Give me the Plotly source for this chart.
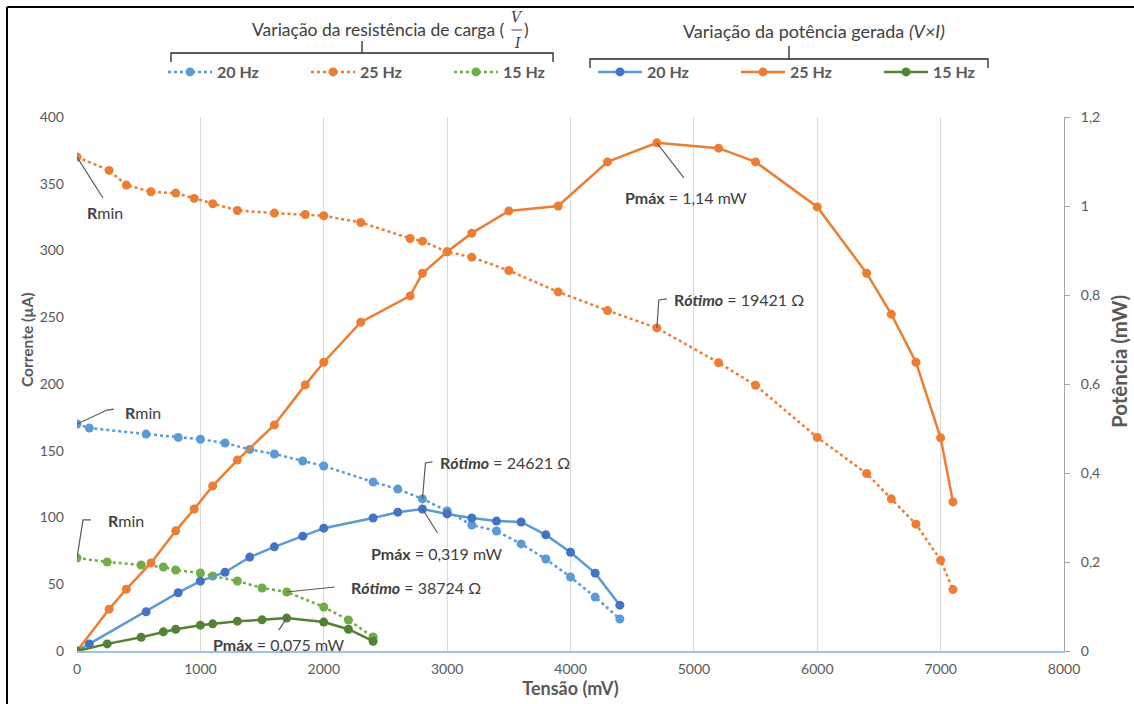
import plotly.graph_objects as go

# ---------------- data ----------------
# 25 Hz
x25 = [0, 260, 400, 600, 800, 950, 1100, 1300, 1600, 1850, 2000, 2300, 2700, 2800,
       3000, 3200, 3500, 3900, 4300, 4700, 5200, 5500, 6000, 6400, 6600, 6800, 7000, 7100]
i25 = [370, 360, 349, 344, 343, 339, 335, 330, 328, 327, 326, 321, 309, 307,
       299, 295, 285, 269, 255, 242, 216, 199, 160, 133, 114, 95, 68, 46]
p25 = [0, 0.094, 0.139, 0.198, 0.270, 0.319, 0.371, 0.429, 0.508, 0.598, 0.649, 0.739, 0.798, 0.849,
       0.897, 0.939, 0.989, 1.0, 1.099, 1.142, 1.130, 1.099, 0.998, 0.849, 0.757, 0.649, 0.479, 0.335]

# 20 Hz
x20 = [0, 100, 560, 820, 1000, 1200, 1400, 1600, 1830, 2000, 2400, 2600, 2800,
       3000, 3200, 3400, 3600, 3800, 4000, 4200, 4400]
i20 = [170, 167, 162.5, 160, 158.6, 155.8, 151, 147.6, 142.3, 138.6, 126.6, 121.3, 113.9,
       104.9, 94.4, 89.9, 80.2, 68.9, 55.4, 40.4, 24.0]
p20 = [0, 0.016, 0.088, 0.131, 0.157, 0.177, 0.211, 0.234, 0.258, 0.276, 0.299, 0.312, 0.319,
       0.308, 0.299, 0.292, 0.290, 0.261, 0.222, 0.175, 0.103]

# 15 Hz
x15 = [0, 245, 520, 700, 800, 1000, 1100, 1300, 1500, 1700, 2000, 2200, 2400]
i15 = [69.7, 66.7, 64.4, 62.9, 60.7, 58.4, 56.2, 52.4, 47.2, 44.2, 33.0, 23.2, 10.5]
p15 = [0, 0.016, 0.031, 0.043, 0.049, 0.058, 0.061, 0.067, 0.070, 0.074, 0.065, 0.049, 0.022]

series_names = ["20 Hz", "25 Hz", "15 Hz"]
x_ticks = [0, 1000, 2000, 3000, 4000, 5000, 6000, 7000, 8000]
y_ticks = [0, 50, 100, 150, 200, 250, 300, 350, 400]
y2_ticks = [0, 0.2, 0.4, 0.6, 0.8, 1.0, 1.2]
y2_ticktext = ["0", "0,2", "0,4", "0,6", "0,8", "1", "1,2"]

# ---------------- styling ----------------
W, H = 1134, 704
L, R, T, B = 77, 1064, 117, 651
FONT = "Lato, 'Open Sans', sans-serif"
GRAY = "#595959"
DARK = "#404040"
BLUE_L, BLUE_D = "#5B9BD5", "#4472C4"
ORANGE = "#ED7D31"
GREEN_L, GREEN_D = "#70AD47", "#548235"


def px(x):
    return (x - L) / (R - L)


def py(y):
    return (B - y) / (B - T)


fig = go.Figure()

# current (dotted) -> left axis
for name, xs, ys, col in [(series_names[0], x20, i20, BLUE_L),
                          (series_names[1], x25, i25, ORANGE),
                          (series_names[2], x15, i15, GREEN_L)]:
    fig.add_trace(go.Scatter(x=xs, y=ys, name=name, mode="lines+markers",
                             line=dict(color=col, width=2.5, dash="dot"),
                             marker=dict(color=col, size=9),
                             legend="legend", yaxis="y"))

# power (solid) -> right axis
for name, xs, ys, lcol, mcol in [(series_names[0], x20, p20, BLUE_L, BLUE_D),
                                 (series_names[1], x25, p25, ORANGE, ORANGE),
                                 (series_names[2], x15, p15, GREEN_D, GREEN_D)]:
    fig.add_trace(go.Scatter(x=xs, y=ys, name=name, mode="lines+markers",
                             line=dict(color=lcol, width=2.5),
                             marker=dict(color=mcol, size=9),
                             legend="legend2", yaxis="y2"))

# ---------------- annotations with leader lines ----------------
k25 = p25.index(max(p25))
k20 = p20.index(max(p20))
k15 = p15.index(max(p15))

ANN = 16
labels = [
    # (x, y, yref, leader path (px, up positive), text, xanchor, xshift, yshift)
    (x25[0], i25[0], "y", "M0,0 L26,-41", "<b>R</b>min", "left", 8, -55),
    (x20[0], i20[0], "y", "M0,0 L30,14 L37,15", "<b>R</b>min", "left", 46, 12),
    (x15[0], i15[0], "y", "M0,0 L6,38 L14,38", "<b>R</b>min", "left", 29, 37),
    (x25[k25], p25[k25], "y2", "M0,0 L27,-35", "<b>Pmáx</b> = 1,14 mW", "left", -34, -55),
    (x25[k25], i25[k25], "y", "M0,0 L2,28 L10,29", "<b>R<i>ótimo</i></b> = 19421 Ω", "left", 15, 28),
    (x20[k20], i20[k20], "y", "M0,0 L3,36 L10,37", "<b>R<i>ótimo</i></b> = 24621 Ω", "left", 16, 36),
    (x20[k20], p20[k20], "y2", "M0,0 L15,-24", "<b>Pmáx</b> = 0,319 mW", "left", -53, -44),
    (x15[k15], i15[k15], "y", "M0,0 L48,5", "<b>R<i>ótimo</i></b> = 38724 Ω", "left", 62, 4),
    (x15[k15], p15[k15], "y2", "M0,0 L-8,-12", "<b>Pmáx</b> = 0,075 mW", "left", -76, -26),
]

shapes = []
annotations = []
for xv, yv, yref, path, text, xa, xs, ys in labels:
    shapes.append(dict(type="path", xref="x", yref=yref, xsizemode="pixel", ysizemode="pixel",
                       xanchor=xv, yanchor=yv, path=path,
                       line=dict(color=GRAY, width=1.2)))
    annotations.append(dict(x=xv, y=yv, xref="x", yref=yref, text=text, showarrow=False,
                            xanchor=xa, yanchor="middle", xshift=xs, yshift=ys,
                            font=dict(family=FONT, size=ANN, color=DARK)))

# ---------------- axis titles (placed like the reference) ----------------
annotations += [
    dict(x=px(27), y=py(340), xref="paper", yref="paper", text="<b>Corrente (µA)</b>",
         showarrow=False, textangle=-90, xanchor="center", yanchor="middle",
         font=dict(family=FONT, size=15.5, color=GRAY)),
    dict(x=px(1119), y=py(362), xref="paper", yref="paper", text="<b>Potência (mW)</b>",
         showarrow=False, textangle=-90, xanchor="center", yanchor="middle",
         font=dict(family=FONT, size=20.5, color=GRAY)),
]

# ---------------- legend titles / braces ----------------
TT = 17.5
annotations += [
    dict(x=px(507), y=py(30), xref="paper", yref="paper", text="Variação da resistência de carga (",
         showarrow=False, xanchor="right", yanchor="middle",
         font=dict(family=FONT, size=TT, color=DARK)),
    dict(x=px(517), y=py(17), xref="paper", yref="paper", text="<i>V</i>", showarrow=False,
         xanchor="center", yanchor="middle",
         font=dict(family="'DejaVu Serif', serif", size=14, color=DARK)),
    dict(x=px(517), y=py(43), xref="paper", yref="paper", text="<i>I</i>", showarrow=False,
         xanchor="center", yanchor="middle",
         font=dict(family="'DejaVu Serif', serif", size=14, color=DARK)),
    dict(x=px(522), y=py(30), xref="paper", yref="paper", text=")", showarrow=False,
         xanchor="left", yanchor="middle",
         font=dict(family=FONT, size=TT, color=DARK)),
    dict(x=px(814), y=py(31), xref="paper", yref="paper",
         text="Variação da potência gerada <i>(V×I)</i>",
         showarrow=False, xanchor="center", yanchor="middle",
         font=dict(family=FONT, size=18, color=DARK)),
]


def brace(x0, x1, yb, yend, ytop):
    xc = (x0 + x1) / 2
    return (f"M{px(x0)},{py(yend)} L{px(x0)},{py(yb)} L{px(x1)},{py(yb)} L{px(x1)},{py(yend)} "
            f"M{px(xc)},{py(yb)} L{px(xc)},{py(ytop)}")


shapes += [
    dict(type="line", xref="paper", yref="paper", x0=px(511.5), x1=px(522), y0=py(30), y1=py(30),
         line=dict(color=DARK, width=1)),
    dict(type="path", xref="paper", yref="paper", path=brace(171, 553, 53, 62, 41),
         line=dict(color="#262626", width=1.3)),
    dict(type="path", xref="paper", yref="paper", path=brace(590, 988, 59, 68, 46),
         line=dict(color="#262626", width=1.3)),
    # outer frame (top and left)
    dict(type="line", xref="paper", yref="paper", x0=px(7), x1=px(1134), y0=py(7), y1=py(7),
         line=dict(color="black", width=2)),
    dict(type="line", xref="paper", yref="paper", x0=px(7), x1=px(7), y0=py(7), y1=py(704),
         line=dict(color="black", width=2)),
]

leg_common = dict(orientation="h", xanchor="left", yanchor="middle", bgcolor="rgba(0,0,0,0)",
                  entrywidth=84, entrywidthmode="pixels", itemwidth=44,
                  font=dict(family=FONT, size=16, color=GRAY, weight="bold"))

fig.update_layout(
    width=W, height=H,
    margin=dict(l=L, r=W - R, t=T, b=H - B, pad=0, autoexpand=False),
    paper_bgcolor="white", plot_bgcolor="white",
    font=dict(family=FONT, color=GRAY),
    showlegend=True,
    legend=dict(x=px(163), y=py(72), **leg_common),
    legend2=dict(x=px(593), y=py(72), **leg_common),
    xaxis=dict(range=[0, 8000], tickvals=x_ticks, showgrid=True, gridcolor="#D9D9D9", gridwidth=1,
               showline=True, linecolor="#9DC3E6", linewidth=2, zeroline=False, ticks="",
               tickfont=dict(size=14, color=GRAY), ticklabelstandoff=4, automargin=False,
               title=dict(text="<b>Tensão (mV)</b>", font=dict(size=18, color=GRAY), standoff=6)),
    yaxis=dict(range=[0, 400], tickvals=y_ticks, showgrid=False, showline=False, zeroline=False,
               ticks="", tickfont=dict(size=14, color=GRAY), ticklabelstandoff=12, automargin=False),
    yaxis2=dict(range=[0, 1.2], overlaying="y", side="right", tickvals=y2_ticks, ticktext=y2_ticktext,
                showgrid=False, showline=True, linecolor="#A6A6A6", linewidth=1, zeroline=False,
                ticks="outside", ticklen=5, tickcolor="#A6A6A6", ticklabelstandoff=8, automargin=False,
                tickfont=dict(size=14, color=GRAY)),
    shapes=shapes,
    annotations=annotations,
)

fig.write_html("out.html")
